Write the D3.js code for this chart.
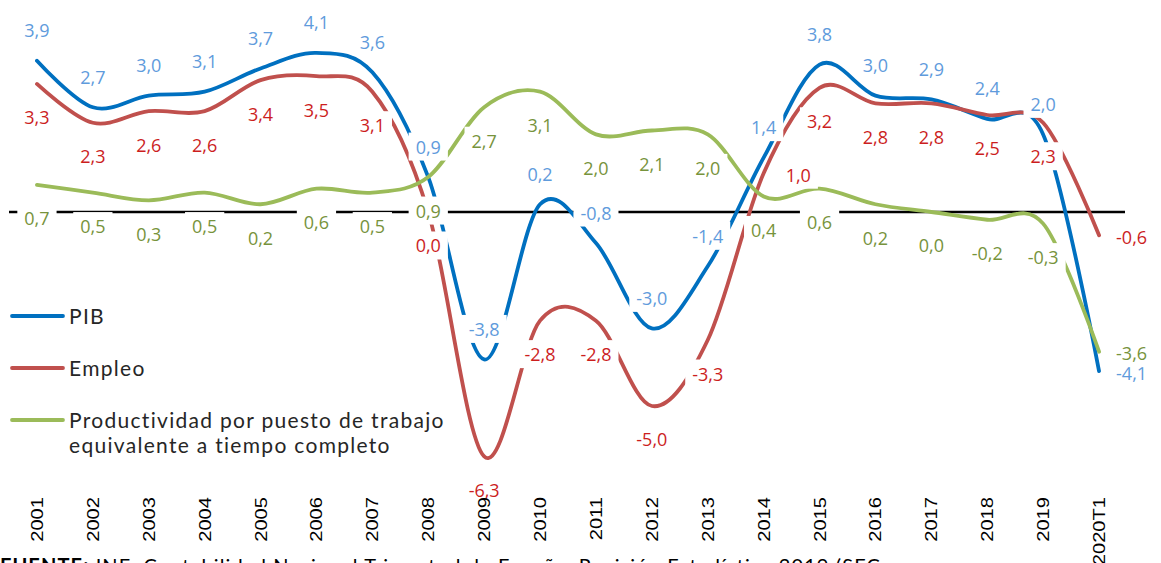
<html lang="es">
<head>
<meta charset="utf-8">
<title>PIB, Empleo y Productividad</title>
<style>
	body { margin: 0; background: white; }
	svg { display: block; }
	.lbl { font-family: "Open Sans", sans-serif; font-size: 18px; }
	.year { font-family: "Liberation Sans", Arial, sans-serif; font-size: 16.5px; fill: #000; }
	.legend text { font-family: Lato, "Open Sans", sans-serif; font-size: 21px; letter-spacing: 1.3px; fill: #262626; }
	.foot { font-family: Lato, sans-serif; font-size: 20px; letter-spacing: 1.1px; fill: #000; }
</style>
</head>
<body>
<div id="chart"></div>
<script src="https://cdnjs.cloudflare.com/ajax/libs/d3/7.8.5/d3.min.js"></script>
<script>

var categories = ["2001","2002","2003","2004","2005","2006","2007","2008","2009","2010",
	"2011","2012","2013","2014","2015","2016","2017","2018","2019","2020T1"];
var pib = [3.9,2.7,3.0,3.1,3.7,4.1,3.6,0.9,-3.8,0.2,-0.8,-3.0,-1.4,1.4,3.8,3.0,2.9,2.4,2.0,-4.1];
var empleo = [3.3,2.3,2.6,2.6,3.4,3.5,3.1,0.0,-6.3,-2.8,-2.8,-5.0,-3.3,1.0,3.2,2.8,2.8,2.5,2.3,-0.6];
var productividad = [0.7,0.5,0.3,0.5,0.2,0.6,0.5,0.9,2.7,3.1,2.0,2.1,2.0,0.4,0.6,0.2,0.0,-0.2,-0.3,-3.6];
var seriesNames = ["PIB", "Empleo", "Productividad por puesto de trabajo|equivalente a tiempo completo"];
var fuente = ["FUENTE:", " INE. Contabilidad Nacional Trimestral de España. Revisión Estadística 2019 (SEC"];

var width = 1161, height = 563;

var series = [
	{name: seriesNames[0], values: pib, line: "#0070c0", text: "#5f9bdc", pos: "above"},
	{name: seriesNames[1], values: empleo, line: "#c0504d", text: "#cc1e1e", pos: "below"},
	{name: seriesNames[2], values: productividad, line: "#9bbb59", text: "#77933c", pos: "below"}
];

var svg = d3.select("#chart").append("svg")
	.attr("width", width)
	.attr("height", height);

var x = d3.scaleBand().domain(categories).range([9, 1127]);
var cx = function(c){ return x(c) + x.bandwidth() / 2; };
var y = d3.scaleLinear().domain([-6.5, 4.5]).range([464.2, 37.4]);

var fmt = d3.formatLocale({decimal: ",", thousands: ".", grouping: [3], currency: ["", "€"], minus: "-"}).format(".1f");

// eje cero
svg.append("line")
	.attr("x1", 9).attr("x2", 1125)
	.attr("y1", y(0)).attr("y2", y(0))
	.attr("stroke", "#000").attr("stroke-width", 2.6);

var line = d3.line()
	.x(function(d, i){ return cx(categories[i]); })
	.y(function(d){ return y(d); })
	.curve(d3.curveCardinal.tension(0));

svg.selectAll("path.serie")
	.data(series)
	.enter().append("path")
	.attr("class", "serie")
	.attr("d", function(s){ return line(s.values); })
	.attr("fill", "none")
	.attr("stroke", function(s){ return s.line; })
	.attr("stroke-width", 3.8)
	.attr("stroke-linecap", "round");

// etiquetas de datos con fondo blanco
var labels = svg.append("g");
series.forEach(function(s, si){
	s.values.forEach(function(v, i){
		var px = cx(categories[i]), py = y(v);
		var pos = s.pos;
		if (i === categories.length - 1 || (si === 1 && categories[i] === "2014")) pos = "right";
		var g = labels.append("g");
		var t = g.append("text")
			.attr("class", "lbl")
			.attr("fill", s.text)
			.attr("dy", "0.36em")
			.text(fmt(v));
		if (pos === "above") t.attr("x", px).attr("y", py - 30).attr("text-anchor", "middle");
		else if (pos === "below") t.attr("x", px).attr("y", py + 34).attr("text-anchor", "middle");
		else t.attr("x", px + (i === categories.length - 1 ? 17 : 22)).attr("y", py + 2).attr("text-anchor", "start");
		var b = t.node().getBBox();
		g.insert("rect", "text")
			.attr("x", b.x - 7).attr("y", b.y - 2)
			.attr("width", b.width + 14).attr("height", b.height + 4)
			.attr("fill", "white");
	});
});

// etiquetas del eje x
svg.append("g").selectAll("text")
	.data(categories)
	.enter().append("text")
	.attr("class", "year")
	.attr("transform", function(c){ return "translate(" + cx(c) + ",497) rotate(-90) scale(1.22,1)"; })
	.attr("text-anchor", "end")
	.attr("dy", "0.36em")
	.text(function(c){ return c; });

// leyenda
var legend = svg.append("g").attr("class", "legend");
var legendY = [316, 368, 420];
series.forEach(function(s, i){
	legend.append("line")
		.attr("x1", 12).attr("x2", 63)
		.attr("y1", legendY[i]).attr("y2", legendY[i])
		.attr("stroke", s.line).attr("stroke-width", 3.8).attr("stroke-linecap", "round");
	var t = legend.append("text").attr("x", 69).attr("y", legendY[i]);
	s.name.split("|").forEach(function(part, k){
		t.append("tspan").attr("x", 69).attr("dy", k === 0 ? "0.36em" : "1.22em").text(part);
	});
});

// fuente
var ft = svg.append("text").attr("class", "foot").attr("x", 0).attr("y", 573);
ft.append("tspan").attr("font-weight", "bold").text(fuente[0]);
ft.append("tspan").text(fuente[1]);

</script>
</body>
</html>
